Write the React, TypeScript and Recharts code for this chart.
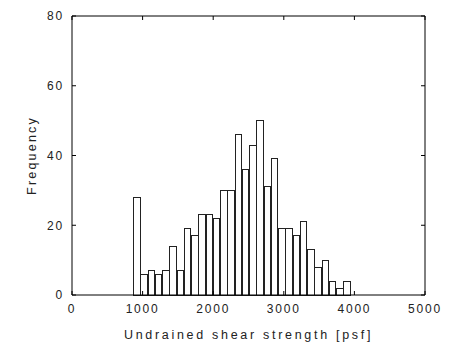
import { ComposedChart, Bar, Line, XAxis, YAxis } from 'recharts'

// bin centres [psf] and counts
const binCenters = [
  924, 1027, 1129, 1232, 1335, 1437, 1540, 1643, 1746, 1848,
  1951, 2054, 2156, 2259, 2362, 2464, 2567, 2670, 2773, 2875,
  2978, 3081, 3183, 3286, 3389, 3491, 3594, 3697, 3800, 3902,
]
const counts = [
  28, 6, 7, 6, 7, 14, 7, 19, 17, 23,
  23, 22, 30, 30, 46, 36, 43, 50, 31, 39,
  19, 19, 17, 21, 13, 8, 10, 4, 2, 4,
]
const xTicks = [0, 1000, 2000, 3000, 4000, 5000]
const yTicks = [0, 20, 40, 60, 80]

const data = binCenters.map((x, i) => ({ x, count: counts[i] }))

const tickFont = { fontFamily: 'Liberation Sans, Arial, sans-serif', fontSize: 12, fill: '#222', letterSpacing: 1.8 }
const titleFont = { fontFamily: 'Liberation Sans, Arial, sans-serif', fontSize: 12.5, fill: '#222', letterSpacing: 2.7 }
const noLabel = () => ''

const App = () => {
  return (
    <div style={{ position: 'absolute', left: 0, top: 0, background: '#fff' }}>
      <ComposedChart
        width={455}
        height={343}
        data={data}
        margin={{ top: 15, right: 29, bottom: 0, left: 0 }}
      >
        <XAxis
          xAxisId="bottom"
          dataKey="x"
          type="number"
          domain={[0, 5000]}
          ticks={xTicks}
          allowDataOverflow
          height={48}
          tickSize={-4}
          tickMargin={13}
          tick={tickFont}
          axisLine={{ stroke: '#000' }}
          tickLine={{ stroke: '#000' }}
          label={{ value: 'Undrained shear strength [psf]', position: 'insideBottom', offset: 4, ...titleFont }}
        />
        <XAxis
          xAxisId="top"
          orientation="top"
          dataKey="x"
          type="number"
          domain={[0, 5000]}
          ticks={xTicks}
          allowDataOverflow
          height={1}
          tickSize={-4}
          tickFormatter={noLabel}
          axisLine={{ stroke: '#000' }}
          tickLine={{ stroke: '#000' }}
        />
        <YAxis
          yAxisId="left"
          type="number"
          domain={[0, 80]}
          ticks={yTicks}
          width={72}
          tickSize={-4}
          tickMargin={12}
          tick={tickFont}
          axisLine={{ stroke: '#000' }}
          tickLine={{ stroke: '#000' }}
          label={{ value: 'Frequency', angle: -90, position: 'insideLeft', offset: 32, ...titleFont, letterSpacing: 2.2, style: { textAnchor: 'middle' } }}
        />
        <YAxis
          yAxisId="right"
          orientation="right"
          type="number"
          domain={[0, 80]}
          ticks={yTicks}
          width={1}
          tickSize={-4}
          tickFormatter={noLabel}
          axisLine={{ stroke: '#000' }}
          tickLine={{ stroke: '#000' }}
        />
        <Bar
          xAxisId="bottom"
          yAxisId="left"
          dataKey="count"
          fill="#fff"
          stroke="#222"
          strokeWidth={1}
          shapeRendering="crispEdges"
          barSize={7.3}
          isAnimationActive={false}
        />
        {/* invisible series so the top and right frame axes get drawn */}
        <Line
          xAxisId="top"
          yAxisId="right"
          dataKey="count"
          stroke="none"
          dot={false}
          activeDot={false}
          isAnimationActive={false}
        />
      </ComposedChart>
    </div>
  )
}

export default App
